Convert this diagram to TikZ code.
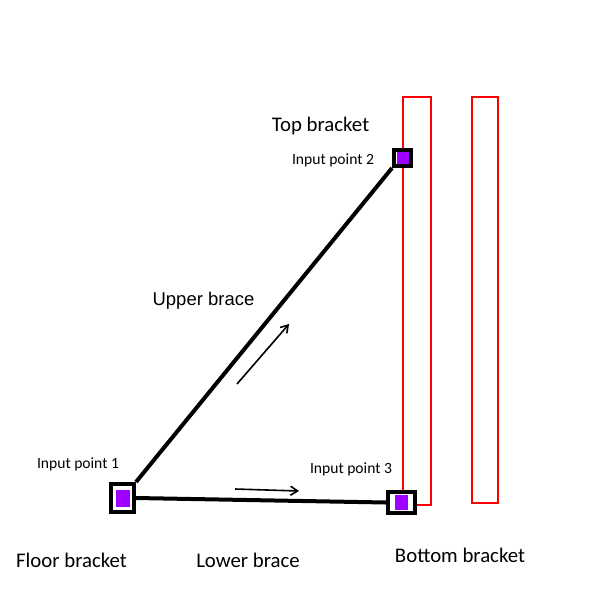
\documentclass[tikz,border=0pt]{standalone}
\usepackage{fontspec}
\setmainfont{Carlito}
\newfontfamily\arialfont{Liberation Sans}
\usepackage{tikz}
\usetikzlibrary{arrows.meta, positioning}
\definecolor{pointfill}{RGB}{160,0,255}

\begin{document}
\begin{tikzpicture}[
    x=1pt, y=-1pt,
    bracket/.style={draw=red, line width=2.2pt},
    brace/.style={draw=black, line width=4pt},
    pointbox/.style={draw=black, line width=4pt, fill=white, inner sep=0pt},
    pointdot/.style={fill=pointfill, inner sep=0pt},
    label/.style={anchor=base, font=\fontsize{20.8}{25}\selectfont},
    smalllabel/.style={anchor=base, font=\fontsize{15.6}{19}\selectfont},
    flow/.style={-{Straight Barb[length=7pt, width=9pt]}, line width=1.6pt}
]
\useasboundingbox (0,0) rectangle (601,594);

% brackets
\draw[bracket] (403,97) rectangle (431,505);
\draw[bracket] (472,97) rectangle (498,503);

% input points
\node[pointbox, minimum width=23pt, minimum height=28pt] (p1) at (122.5,498) {};
\node[pointbox, minimum width=17pt, minimum height=16pt] (p2) at (402.5,158) {};
\node[pointbox, minimum width=27pt, minimum height=21pt] (p3) at (401.5,502.5) {};
\node[pointdot, minimum width=14pt, minimum height=17pt] (d1) at (p1) {};
\node[pointdot, minimum width=12pt, minimum height=12pt] (d2) at (p2) {};
\node[pointdot, minimum width=13pt, minimum height=15pt] (d3) at (p3) {};

% braces
\draw[brace] (p1.north east) -- (p2.south west);
\draw[brace] (p1.east) -- (p3.west);

% direction arrows
\coordinate (ua) at (237,384);
\coordinate (ub) at (289,324);
\coordinate (la) at (235,489);
\coordinate (lb) at (299,491);
\draw[flow] (ua) -- (ub);
\draw[flow] (la) -- (lb);

% labels
\node[label] (topbracket) at (320.5,131) {Top bracket};
\node[smalllabel] (in2) at (333,164) {Input point 2};
\node[label, font=\arialfont\fontsize{18.5}{22}\selectfont] (upperbrace) at (203.5,305) {Upper brace};
\node[smalllabel] (in1) at (78,468) {Input point 1};
\node[smalllabel] (in3) at (351,473) {Input point 3};
\node[label] (floorbracket) at (71.5,567) {Floor bracket};
\node[label] (lowerbrace) at (248,567) {Lower brace};
\node[label] (bottombracket) at (460,562) {Bottom bracket};
\end{tikzpicture}
\end{document}
